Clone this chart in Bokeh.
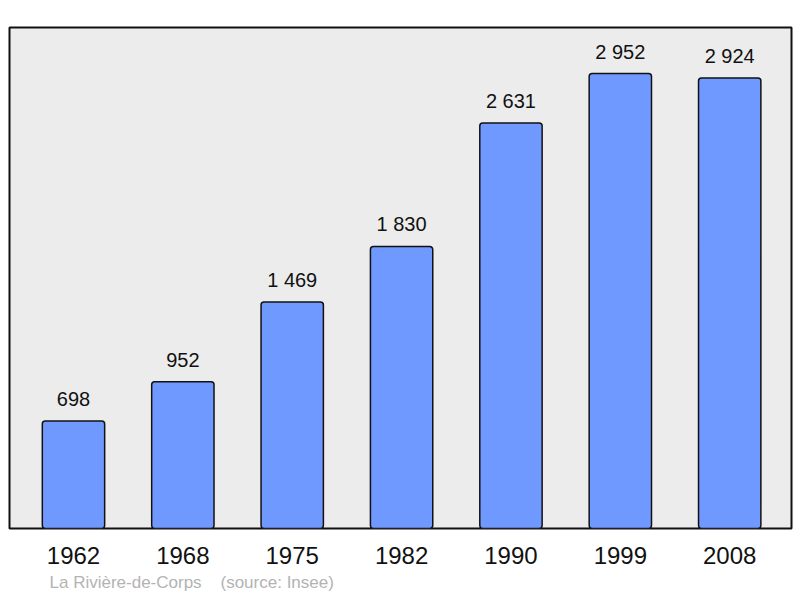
from bokeh.plotting import figure
from bokeh.models import Range1d, FixedTicker, Title, ColumnDataSource
from bokeh.core.properties import value
from bokeh.embed import file_html
from bokeh.resources import INLINE

years = ["1962", "1968", "1975", "1982", "1990", "1999", "2008"]
population = [698, 952, 1469, 1830, 2631, 2952, 2924]
value_labels = ["698", "952", "1 469", "1 830", "2 631", "2 952", "2 924"]
commune = "La Rivière-de-Corps"
source_text = "(source: Insee)"

idx = list(range(len(years)))
src = ColumnDataSource(dict(x=idx, top=population, lab=value_labels))

p = figure(width=800, height=598, output_backend="svg", toolbar_location=None,
           x_range=Range1d(-0.585, 6.565), y_range=Range1d(0, 3251),
           min_border_left=9, min_border_right=9, min_border_top=27,
           min_border_bottom=70)
p.background_fill_color = "#ececec"
p.border_fill_color = "white"
p.outline_line_color = "#111111"
p.outline_line_width = 2
p.grid.visible = False
p.yaxis.visible = False

p.vbar(x="x", top="top", width=0.57, bottom=0, source=src,
       fill_color="#7099ff", line_color="#111111", line_width=1.5,
       border_radius=3)
p.text(x="x", y="top", text="lab", source=src, y_offset=-22,
       text_align="center", text_baseline="middle",
       text_font=value("Liberation Sans"), text_font_size="20px",
       text_color="#111111")

ax = p.xaxis[0]
ax.ticker = FixedTicker(ticks=idx)
ax.major_label_overrides = {i: y for i, y in zip(idx, years)}
ax.axis_line_color = None
ax.major_tick_line_color = None
ax.minor_tick_line_color = None
ax.major_tick_out = 0
ax.major_label_standoff = 18
ax.major_label_text_font = "Liberation Sans"
ax.major_label_text_font_size = "24px"
ax.major_label_text_color = "#111111"

caption = commune + "\u00a0" * 4 + source_text
p.add_layout(Title(text=caption, align="left", offset=40,
                   text_font="Liberation Sans", text_font_size="17px",
                   text_font_style="normal", text_color="#b3b3b3",
                   standoff=9), "below")

open("out.html", "w").write(file_html(p, INLINE))
